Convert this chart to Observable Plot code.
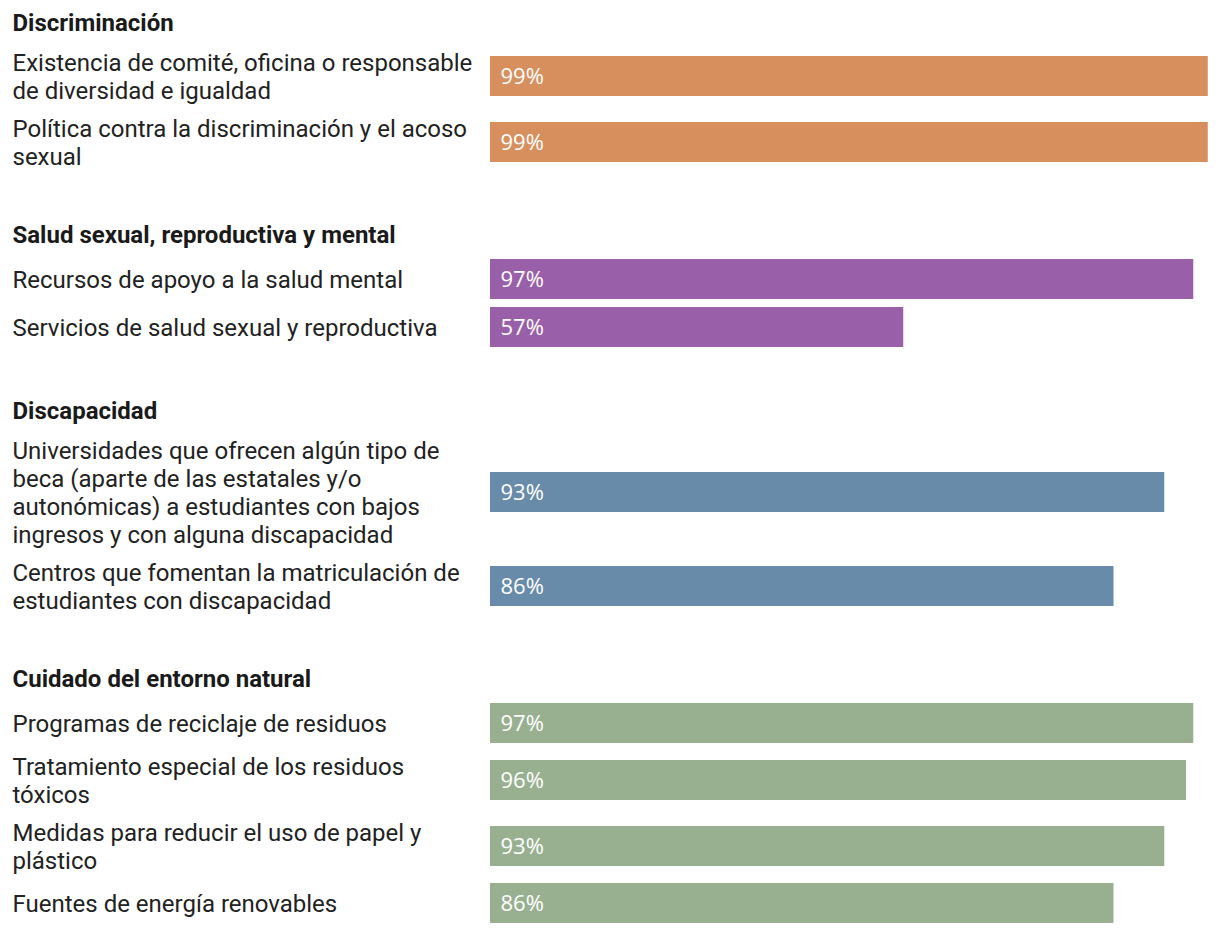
<!DOCTYPE html>
<html>
<head>
<meta charset="utf-8">
<script src="https://cdn.jsdelivr.net/npm/d3@7"></script>
<script src="https://cdn.jsdelivr.net/npm/@observablehq/plot@0.6"></script>
<style>
  html, body { margin: 0; padding: 0; background: #fff; }
  svg { display: block; }
</style>
</head>
<body>
<script>
// ---- Data ----
const groups = [
  "Discriminación",
  "Salud sexual, reproductiva y mental",
  "Discapacidad",
  "Cuidado del entorno natural"
];
const groupColors = ["#d78f5e", "#9a5fa9", "#678ba9", "#98b090"];
const labels = [
  "Existencia de comité, oficina o responsable\nde diversidad e igualdad",
  "Política contra la discriminación y el acoso\nsexual",
  "Recursos de apoyo a la salud mental",
  "Servicios de salud sexual y reproductiva",
  "Universidades que ofrecen algún tipo de\nbeca (aparte de las estatales y/o\nautonómicas) a estudiantes con bajos\ningresos y con alguna discapacidad",
  "Centros que fomentan la matriculación de\nestudiantes con discapacidad",
  "Programas de reciclaje de residuos",
  "Tratamiento especial de los residuos\ntóxicos",
  "Medidas para reducir el uso de papel y\nplástico",
  "Fuentes de energía renovables"
];
const values = [99, 99, 97, 57, 93, 86, 97, 96, 93, 86];
const groupIndex = [0, 0, 1, 1, 2, 2, 3, 3, 3, 3];

// ---- Layout (derived from label line counts) ----
const W = 1220, H = 934;
const lineH = 28, barH = 40, labelSize = 24;
const half = n => Math.max(lineH / 2 * n, 19);
const rows = [];
const headers = [];
let cursor = 23;
groups.forEach((g, gi) => {
  headers.push({label: g, y: cursor});
  const items = labels.map((l, i) => i).filter(i => groupIndex[i] === gi);
  let prev = null;
  items.forEach((i, k) => {
    const n = labels[i].split("\n").length;
    let y;
    if (k === 0) y = cursor + 25 + half(n);
    else y = prev.y + half(prev.n) + 10 + half(n);
    const r = {label: labels[i], value: values[i], color: groupColors[gi], y, n};
    rows.push(r);
    prev = r;
  });
  cursor = prev.y + half(prev.n) + 65;
});

const chart = Plot.plot({
  width: W,
  height: H,
  marginTop: 0, marginBottom: 0, marginLeft: 0, marginRight: 0,
  x: {domain: [0, 100], range: [490, 1215], axis: null},
  y: {domain: [0, H], range: [0, H], axis: null},
  color: {type: "identity"},
  style: {background: "#fff"},
  marks: [
    Plot.rect(rows, {
      x1: () => 0, x2: "value",
      y1: d => d.y - barH / 2, y2: d => d.y + barH / 2,
      fill: "color"
    }),
    Plot.text(rows, {
      x: () => 0, y: "y", text: d => d.value + "%",
      dx: 10, textAnchor: "start", fill: "#fff",
      fontSize: 22, fontFamily: "'Open Sans', sans-serif"
    }),
    Plot.text(rows, {
      frameAnchor: "left", y: "y", text: "label",
      dx: 12, textAnchor: "start", fill: "#222",
      fontSize: labelSize, lineHeight: lineH / labelSize,
      fontFamily: "Roboto, sans-serif"
    }),
    Plot.text(headers, {
      frameAnchor: "left", y: "y", text: "label",
      dx: 12, textAnchor: "start", fill: "#1a1a1a",
      fontSize: labelSize, fontWeight: "bold",
      fontFamily: "Roboto, sans-serif"
    })
  ]
});
document.body.appendChild(chart);
</script>
</body>
</html>
